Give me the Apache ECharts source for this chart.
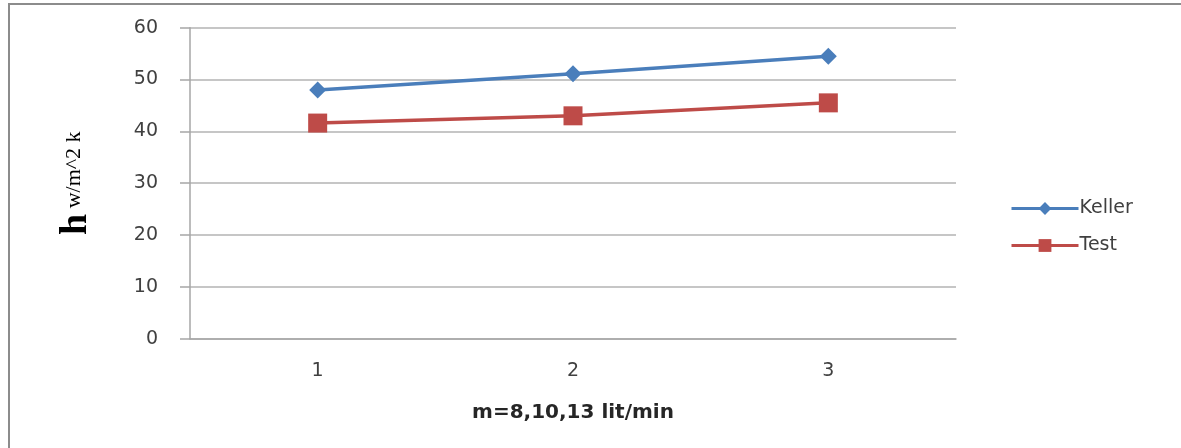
<!DOCTYPE html>
<html>
<head>
<meta charset="utf-8">
<script src="https://cdn.jsdelivr.net/npm/echarts@6/dist/echarts.min.js"></script>
<style>
  html, body { margin: 0; padding: 0; background: #fff; }
  #chart { width: 1181px; height: 448px; }
</style>
</head>
<body>
<div id="chart"></div>
<script>
// Flow-rate steps (m = 8, 10, 13 lit/min) and heat-transfer coefficients
const categories = ['1', '2', '3'];
const kellerValues = [48.0, 51.1, 54.5];
const testValues = [41.6, 43.0, 45.5];
const yTicks = { min: 0, max: 60, interval: 10 };

const chart = echarts.init(document.getElementById('chart'));
const labelFont = '"DejaVu Sans", "Open Sans", sans-serif';
const serifFont = '"Liberation Serif", "DejaVu Serif", serif';

chart.setOption({
  animation: false,
  backgroundColor: '#ffffff',
  graphic: [{
    type: 'rect',
    shape: { x: 9, y: 4, width: 1400, height: 600 },
    style: { fill: 'none', stroke: '#8c8c8c', lineWidth: 2 },
    silent: true
  }],
  grid: { left: 190, top: 27.7, width: 766, height: 311, containLabel: false },
  legend: {
    orient: 'vertical',
    left: 1005,
    top: 194,
    itemWidth: 67,
    itemHeight: 16,
    itemGap: 18,
    lineStyle: { width: 3 },
    textStyle: { fontFamily: labelFont, fontSize: 19, color: '#404040', padding: [0, 0, 0, -4] },
    data: ['Keller', 'Test']
  },
  xAxis: {
    type: 'category',
    data: categories,
    boundaryGap: true,
    name: 'm=8,10,13 lit/min',
    nameLocation: 'middle',
    nameGap: 64,
    nameTextStyle: { fontFamily: labelFont, fontSize: 20, fontWeight: 'bold', color: '#262626' },
    axisLine: { lineStyle: { color: '#a6a6a6', width: 1.5 } },
    axisTick: { show: false },
    axisLabel: { fontFamily: labelFont, fontSize: 19, color: '#404040', margin: 23 }
  },
  yAxis: {
    type: 'value',
    min: yTicks.min,
    max: yTicks.max,
    interval: yTicks.interval,
    name: '{h|h}{u| w/m^2 k}',
    nameLocation: 'middle',
    nameRotate: 90,
    nameGap: 95,
    nameTextStyle: {
      rich: {
        h: { fontFamily: serifFont, fontWeight: 'bold', fontSize: 38, color: '#000' },
        u: { fontFamily: serifFont, fontSize: 22, color: '#000', padding: [0, 0, 3, 0] }
      }
    },
    axisLine: { show: true, lineStyle: { color: '#a6a6a6', width: 1.5 } },
    axisTick: { show: true, length: 10, lineStyle: { color: '#a6a6a6', width: 1.5 } },
    splitLine: { lineStyle: { color: '#b3b3b3', width: 1.5 } },
    axisLabel: { fontFamily: labelFont, fontSize: 19, color: '#404040', margin: 32 }
  },
  series: [
    {
      name: 'Keller',
      type: 'line',
      data: kellerValues,
      symbol: 'diamond',
      symbolSize: 17,
      lineStyle: { color: '#4a7ebb', width: 3.5 },
      itemStyle: { color: '#4a7ebb' }
    },
    {
      name: 'Test',
      type: 'line',
      data: testValues,
      symbol: 'rect',
      symbolSize: 19,
      lineStyle: { color: '#be4b48', width: 3.5 },
      itemStyle: { color: '#be4b48' }
    }
  ]
});
</script>
</body>
</html>
